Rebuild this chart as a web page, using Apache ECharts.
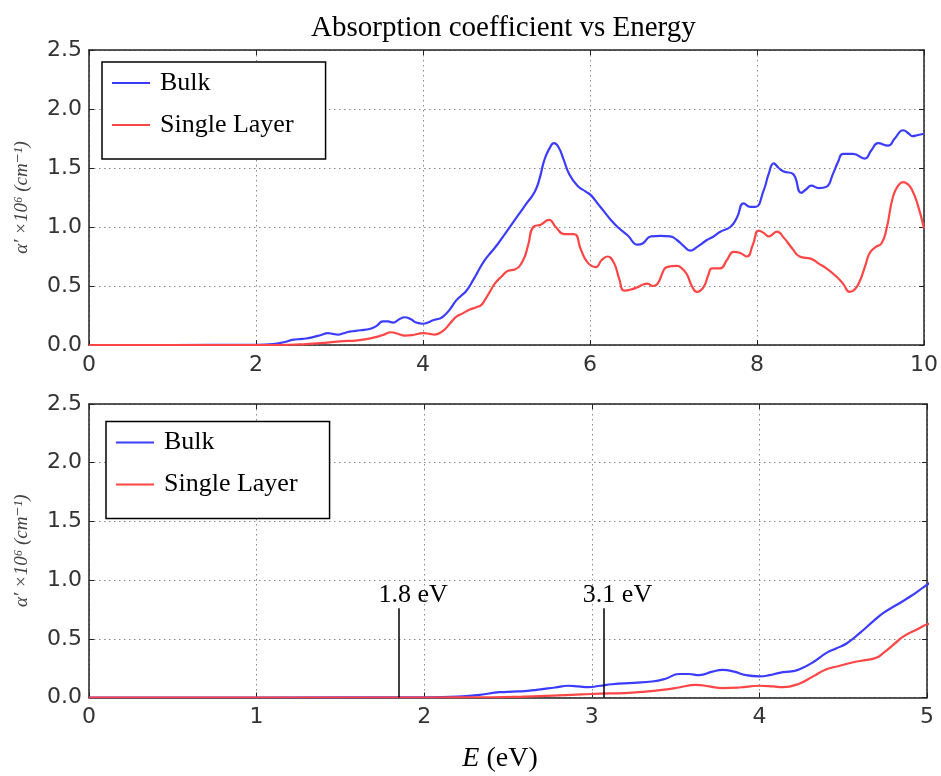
<!DOCTYPE html>
<html><head><meta charset="utf-8">
<script src="https://cdn.jsdelivr.net/npm/echarts@6/dist/echarts.min.js"></script>
<style>html,body{margin:0;padding:0;background:#fff}#c{width:941px;height:776px}</style>
</head><body><div id="c"></div><script>
const titleText = 'Absorption coefficient vs Energy';
const seriesNames = ['Bulk', 'Single Layer'];
const bulkE = [0, 1.0, 2.0, 2.2, 2.33, 2.45, 2.53, 2.6, 2.67, 2.78, 2.86, 2.92, 2.98, 3.05, 3.12, 3.25, 3.36, 3.44, 3.52, 3.58, 3.64, 3.72, 3.78, 3.85, 3.92, 4.0, 4.06, 4.12, 4.2, 4.24, 4.32, 4.40, 4.46, 4.52, 4.60, 4.68, 4.74, 4.82, 4.90, 4.98, 5.06, 5.14, 5.24, 5.34, 5.40, 5.45, 5.51, 5.57, 5.62, 5.68, 5.75, 5.85, 5.95, 6.01, 6.09, 6.17, 6.25, 6.33, 6.45, 6.57, 6.63, 6.73, 6.85, 6.96, 7.04, 7.12, 7.20, 7.28, 7.40, 7.48, 7.56, 7.68, 7.76, 7.84, 7.92, 7.98, 8.08, 8.14, 8.20, 8.26, 8.32, 8.43, 8.53, 8.59, 8.65, 8.74, 8.83, 8.91, 8.97, 9.03, 9.15, 9.29, 9.37, 9.45, 9.57, 9.65, 9.75, 9.82, 9.86, 9.93, 10.0];
const bulkV = [0, 0, 0.002, 0.008, 0.023, 0.045, 0.05, 0.055, 0.065, 0.085, 0.10, 0.095, 0.088, 0.10, 0.113, 0.125, 0.136, 0.16, 0.20, 0.20, 0.19, 0.22, 0.235, 0.22, 0.19, 0.18, 0.19, 0.21, 0.225, 0.24, 0.30, 0.38, 0.42, 0.46, 0.55, 0.65, 0.72, 0.79, 0.86, 0.94, 1.02, 1.10, 1.20, 1.30, 1.42, 1.56, 1.66, 1.71, 1.68, 1.58, 1.45, 1.35, 1.30, 1.27, 1.20, 1.13, 1.06, 1.0, 0.93, 0.85, 0.86, 0.92, 0.925, 0.92, 0.89, 0.84, 0.80, 0.83, 0.89, 0.92, 0.96, 1.0, 1.08, 1.20, 1.17, 1.17, 1.31, 1.45, 1.54, 1.50, 1.47, 1.45, 1.29, 1.32, 1.35, 1.33, 1.34, 1.45, 1.55, 1.62, 1.62, 1.58, 1.65, 1.71, 1.69, 1.75, 1.82, 1.79, 1.77, 1.78, 1.79];
const singleE = [0, 2.0, 2.4, 2.6, 2.73, 2.88, 3.0, 3.22, 3.32, 3.42, 3.52, 3.62, 3.70, 3.78, 3.88, 4.0, 4.08, 4.14, 4.24, 4.32, 4.40, 4.48, 4.56, 4.64, 4.70, 4.74, 4.80, 4.86, 4.94, 5.02, 5.10, 5.20, 5.26, 5.32, 5.41, 5.51, 5.59, 5.69, 5.81, 5.89, 5.97, 6.07, 6.14, 6.21, 6.29, 6.35, 6.41, 6.49, 6.57, 6.63, 6.69, 6.75, 6.81, 6.88, 6.92, 7.04, 7.10, 7.16, 7.22, 7.28, 7.36, 7.42, 7.46, 7.56, 7.64, 7.72, 7.80, 7.88, 7.95, 8.02, 8.08, 8.14, 8.24, 8.32, 8.42, 8.51, 8.65, 8.74, 8.83, 8.95, 9.03, 9.11, 9.17, 9.23, 9.30, 9.35, 9.42, 9.49, 9.55, 9.63, 9.70, 9.75, 9.81, 9.86, 9.92, 10.0];
const singleV = [0, 0, 0.002, 0.008, 0.014, 0.022, 0.03, 0.04, 0.05, 0.065, 0.085, 0.108, 0.095, 0.08, 0.085, 0.10, 0.095, 0.088, 0.12, 0.18, 0.24, 0.27, 0.30, 0.32, 0.34, 0.38, 0.45, 0.52, 0.58, 0.63, 0.64, 0.72, 0.85, 1.0, 1.02, 1.06, 1.0, 0.94, 0.94, 0.81, 0.70, 0.66, 0.72, 0.75, 0.69, 0.56, 0.46, 0.47, 0.49, 0.51, 0.52, 0.50, 0.52, 0.63, 0.66, 0.67, 0.65, 0.60, 0.50, 0.45, 0.49, 0.60, 0.65, 0.65, 0.72, 0.79, 0.78, 0.75, 0.85, 0.97, 0.95, 0.92, 0.96, 0.91, 0.82, 0.75, 0.73, 0.69, 0.65, 0.58, 0.52, 0.45, 0.47, 0.54, 0.68, 0.78, 0.83, 0.86, 0.98, 1.26, 1.36, 1.38, 1.36, 1.31, 1.20, 0.99];
const markerE = [1.85, 3.07];
const markerTop = 0.76;
const markerLabels = ['1.8 eV', '3.1 eV'];

const SERIF = '"Liberation Serif", "DejaVu Serif", serif';
const SANS = '"DejaVu Sans", sans-serif';
const colors = ['#3c3cff', '#ff4646'];

const grids = [
  {left: 89, top: 50, width: 838, height: 295},
  {left: 89, top: 404, width: 838, height: 293.5}
];
const frameLine = {show: true, onZero: false, lineStyle: {color: '#222', width: 1.5}};
const tickIn = {show: true, inside: true, length: 5, lineStyle: {color: '#222', width: 1}};
const gridLine = {show: true, lineStyle: {color: '#888', width: 1, type: [1.5, 3.5]}};

function xMain(g, max, interval) {
  return {type: 'value', gridIndex: g, min: 0, max: max, interval: interval, position: 'bottom',
    axisLine: frameLine, axisTick: tickIn, splitLine: gridLine,
    axisLabel: {color: '#333', fontFamily: SANS, fontSize: 22, margin: 9}};
}
function xTop(g, max, interval) {
  return {type: 'value', gridIndex: g, min: 0, max: max, interval: interval, position: 'top',
    axisLine: frameLine, axisTick: tickIn, splitLine: {show: false}, axisLabel: {show: false}};
}
function yMain(g) {
  return {type: 'value', gridIndex: g, min: 0, max: 2.5, interval: 0.5, position: 'left',
    axisLine: frameLine, axisTick: tickIn, splitLine: gridLine,
    axisLabel: {color: '#333', fontFamily: SANS, fontSize: 22, margin: 7, formatter: v => v.toFixed(1)},
    name: 'α′ ×10⁶ (cm⁻¹)', nameLocation: 'middle', nameGap: 58,
    nameTextStyle: {fontFamily: SERIF, fontStyle: 'italic', fontSize: 19, color: '#444'}};
}
function yRight(g) {
  return {type: 'value', gridIndex: g, min: 0, max: 2.5, interval: 0.5, position: 'right',
    axisLine: frameLine, axisTick: tickIn, splitLine: {show: false}, axisLabel: {show: false}};
}

const xb = xMain(1, 5, 1);
xb.name = '{i|E} (eV)';
xb.nameLocation = 'middle';
xb.nameGap = 47;
xb.nameTextStyle = {fontFamily: SERIF, fontSize: 28, color: '#000', padding: [0, 16, 0, 0],
  rich: {i: {fontFamily: SERIF, fontStyle: 'italic', fontSize: 28, color: '#000'}}};

function pairs(xs, ys) { return xs.map((x, i) => [x, ys[i]]); }
function lineSeries(name, xs, ys, color, xi, yi) {
  return {type: 'line', name: name, data: pairs(xs, ys), xAxisIndex: xi, yAxisIndex: yi,
    showSymbol: false, smooth: 0.5, clip: true, color: color,
    lineStyle: {color: color, width: 2.2}, animation: false};
}

const legendBase = {orient: 'vertical', icon: 'rect', itemWidth: 38, itemHeight: 2, itemGap: 12,
  padding: [6, 32, 19, 10], borderColor: '#000', borderWidth: 1.5, backgroundColor: '#fff',
  textStyle: {fontFamily: SERIF, fontSize: 26, color: '#000', lineHeight: 30, padding: [0, 0, 0, 5]},
  data: seriesNames, selectedMode: false};

const bottomBulk = lineSeries(seriesNames[0], bulkE, bulkV, colors[0], 2, 2);
bottomBulk.markLine = {silent: true, symbol: 'none', animation: false,
  lineStyle: {color: '#000', width: 1.5, type: 'solid'},
  label: {show: true, position: 'end', formatter: p => p.name, fontFamily: SERIF, fontSize: 26, color: '#000', offset: [14, 5]},
  data: markerE.map((e, i) => [{coord: [e, 0], name: markerLabels[i]}, {coord: [e, markerTop]}])};

const option = {
  backgroundColor: '#fff',
  animation: false,
  title: {text: titleText, left: 306, top: 9,
    textStyle: {fontFamily: SERIF, fontWeight: 'normal', fontSize: 29, color: '#000'}},
  grid: grids.map(g => Object.assign({show: false}, g)),
  legend: [Object.assign({left: 102, top: 62}, legendBase), Object.assign({left: 106, top: 421.5}, legendBase)],
  xAxis: [xMain(0, 10, 2), xTop(0, 10, 2), xb, xTop(1, 5, 1)],
  yAxis: [yMain(0), yRight(0), yMain(1), yRight(1)],
  series: [
    lineSeries(seriesNames[0], bulkE, bulkV, colors[0], 0, 0),
    lineSeries(seriesNames[1], singleE, singleV, colors[1], 0, 0),
    bottomBulk,
    lineSeries(seriesNames[1], singleE, singleV, colors[1], 2, 2)
  ]
};
const chart = echarts.init(document.getElementById('c'), null, {renderer: 'canvas'});
chart.setOption(option);
</script></body></html>
